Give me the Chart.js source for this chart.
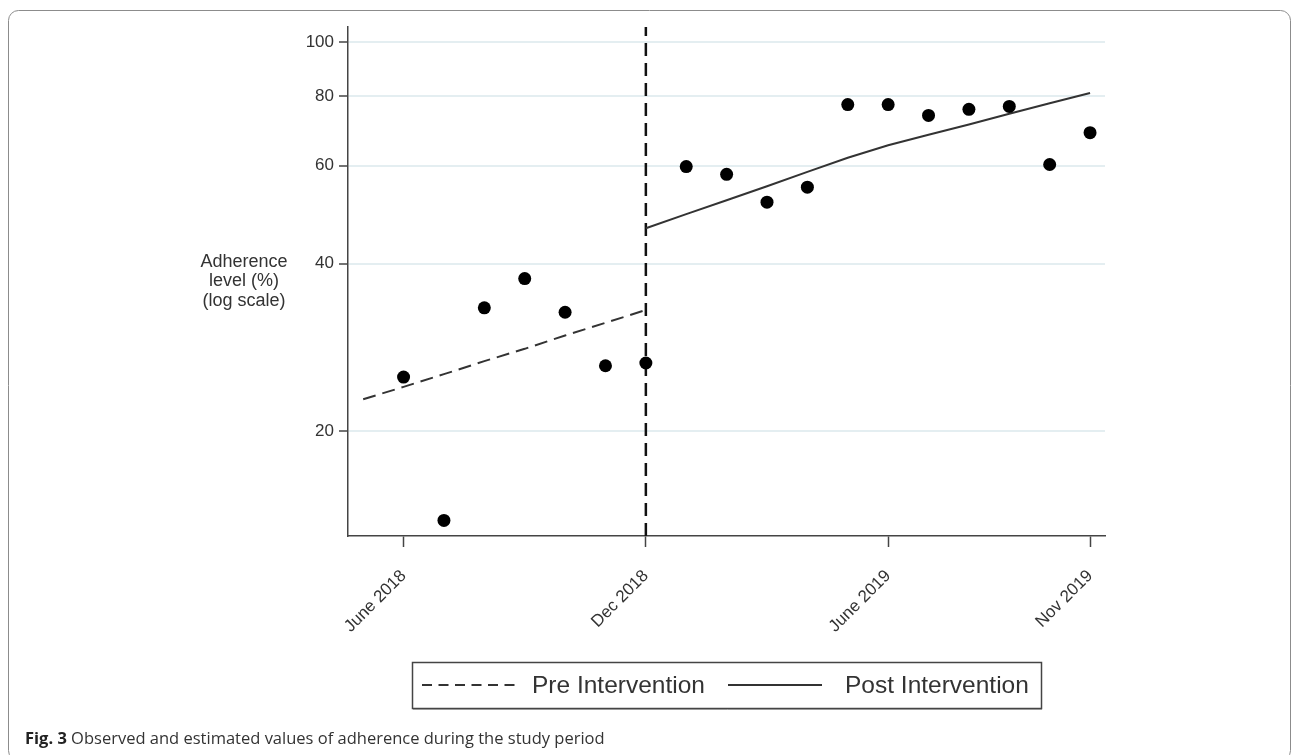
<!DOCTYPE html>
<html>
<head>
<meta charset="utf-8">
<title>Adherence</title>
<script src="https://cdn.jsdelivr.net/npm/chart.js@4.4.1/dist/chart.umd.min.js"></script>
<style>
  html, body { margin:0; padding:0; background:#fff; }
  #wrap { width:1293px; height:755px; position:relative; }
</style>
</head>
<body>
<div id="wrap"><canvas id="chart" width="1293" height="755"></canvas></div>
<script>
// months counted from June 2018 (0) to Nov 2019 (17)
const obsMonth = [0,1,2,3,4,5,6,7,8,9,10,11,12,13,14,15,16,17];
const observed = [25.0,13.8,33.3,37.6,32.7,26.2,26.5,59.8,57.9,51.6,54.9,77.3,77.3,73.9,75.8,76.7,60.3,68.8];

const preMonth = [-1,0,1,2,3,4,5,6];
const preFit = [22.8,24.0,25.3,26.7,28.1,29.7,31.3,33.0];

const postMonth = [6,7,8,9,10,11,12,13,14,15,16,17];
const postFit = [46.3,49.1,52.0,55.1,58.5,62.0,65.3,68.2,71.2,74.4,77.7,81.1];

const interventionMonth = 6;
const tickMonths = [0,6,12,17];
const tickLabels = ["June 2018","Dec 2018","June 2019","Nov 2019"];
const yTicks = [20,40,60,80,100];
const yMin = 12.94, yMax = 106.6;
const xMin = -1.376, xMax = 17.37;

const yTitle = ["Adherence","level (%)","(log scale)"];
const caption = ["Fig. 3", " Observed and estimated values of adherence during the study period"];

const FONT = '"Liberation Sans", Arial, sans-serif';
Chart.defaults.font.family = FONT;
Chart.defaults.color = "#333";

function pts(xs, ys){ return xs.map((x,i)=>({x:x, y:ys[i]})); }

// y title, legend box, caption and frame
const extras = {
  id: "extras",
  afterDraw(chart){
    const ctx = chart.ctx;
    const ca = chart.chartArea;
    ctx.save();

    // y axis title, horizontal
    ctx.fillStyle = "#333";
    ctx.font = "18px " + FONT;
    ctx.textAlign = "center";
    ctx.textBaseline = "middle";
    yTitle.forEach((t,i)=> ctx.fillText(t, ca.left - 104, 262 + i*19.5));

    // legend box
    const bx = 412, by = 662, bw = 629, bh = 46;
    ctx.strokeStyle = "#444";
    ctx.lineWidth = 1.5;
    ctx.strokeRect(bx+0.5, by+0.5, bw, bh);
    ctx.beginPath();
    ctx.moveTo(bx+1, by+bh+1.5); ctx.lineTo(bx+bw+1, by+bh+1.5);
    ctx.lineWidth = 1; ctx.strokeStyle = "#999"; ctx.stroke();

    const ly = by + bh/2;
    const items = [chart.data.datasets[1], chart.data.datasets[2]];
    const starts = [422, 728];
    const textAt = [532, 845];
    ctx.font = "24.5px " + FONT;
    ctx.textAlign = "left";
    ctx.textBaseline = "middle";
    items.forEach((ds,i)=>{
      ctx.beginPath();
      ctx.setLineDash(ds.borderDash ? [10,6.5] : []);
      ctx.strokeStyle = ds.borderColor;
      ctx.lineWidth = 2;
      ctx.moveTo(starts[i], ly); ctx.lineTo(starts[i] + 94, ly);
      ctx.stroke();
      ctx.setLineDash([]);
      ctx.fillStyle = "#333";
      ctx.fillText(ds.label, textAt[i], ly + 1);
    });

    // caption
    ctx.textBaseline = "alphabetic";
    ctx.fillStyle = "#222";
    ctx.font = "bold 16.5px 'Open Sans', sans-serif";
    ctx.fillText(caption[0], 25, 744);
    const w = ctx.measureText(caption[0]).width;
    ctx.font = "16.5px 'Open Sans', sans-serif";
    ctx.fillStyle = "#333";
    ctx.fillText(caption[1], 25 + w, 744);

    // rounded frame
    ctx.beginPath();
    ctx.strokeStyle = "#8c8c8c";
    ctx.lineWidth = 1;
    ctx.roundRect(8.5, 10.5, 1282, 750, 10);
    ctx.stroke();
    ctx.restore();
  }
};

new Chart(document.getElementById("chart"), {
  type: "line",
  data: {
    datasets: [
      { type:"scatter", label:"Observed", data: pts(obsMonth, observed),
        backgroundColor:"#000", borderWidth:0, pointRadius:6.5, showLine:false },
      { label:"Pre Intervention", data: pts(preMonth, preFit),
        borderColor:"#333", borderWidth:2, borderDash:[13,7], pointRadius:0, tension:0 },
      { label:"Post Intervention", data: pts(postMonth, postFit),
        borderColor:"#333", borderWidth:2, pointRadius:0, tension:0 },
      { label:"Intervention", data: pts([interventionMonth, interventionMonth], [yMin, yMax]),
        borderColor:"#111", borderWidth:2.5, borderDash:[13,7], pointRadius:0 }
    ]
  },
  options: {
    responsive:false,
    animation:false,
    events:[],
    layout:{ padding:{ left:0, top:27, right:188, bottom:109 } },
    plugins:{ legend:{ display:false }, tooltip:{ enabled:false } },
    scales:{
      x:{
        type:"linear", min:xMin, max:xMax,
        afterBuildTicks: s => { s.ticks = tickMonths.map(v=>({value:v})); },
        afterFit: s => { s.height = 110; },
        ticks:{ autoSkip:false, minRotation:45, maxRotation:45, padding:19,
          font:{ size:17 }, color:"#333",
          callback: v => tickLabels[tickMonths.indexOf(v)] },
        grid:{ drawOnChartArea:false, tickLength:11, tickColor:"#444", tickWidth:1.5 },
        border:{ color:"#444", width:1.5 }
      },
      y:{
        type:"logarithmic", min:yMin, max:yMax,
        afterBuildTicks: s => { s.ticks = yTicks.map(v=>({value:v})); },
        afterFit: s => { s.width = 348; },
        ticks:{ autoSkip:false, padding:5, font:{ size:17 }, color:"#333",
          callback: v => String(v) },
        grid:{ color:"#e4eef1", lineWidth:2, tickLength:9, tickColor:"#444", tickWidth:1.5 },
        border:{ color:"#444", width:1.5 }
      }
    }
  },
  plugins:[extras]
});
</script>
</body>
</html>
